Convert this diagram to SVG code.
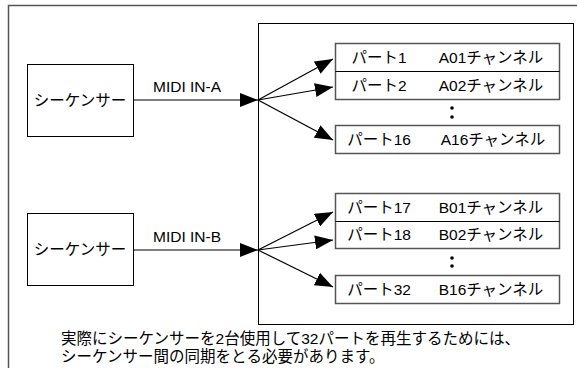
<svg xmlns="http://www.w3.org/2000/svg" width="577" height="368" viewBox="0 0 577 368">
<style>
text{font-family:"Liberation Sans","Noto Sans CJK JP",sans-serif;font-size:15.5px;fill:#000}
.box{fill:#fff;stroke:#000;stroke-width:1}
.cbox{fill:#fff;stroke:#555;stroke-width:1.5}
.div{stroke:#000;stroke-width:1}
.ln{stroke:#000;stroke-width:1.2;fill:none}
.c{text-anchor:middle}
</style>
<defs>
<marker id="ah" markerUnits="userSpaceOnUse" markerWidth="18" markerHeight="14" refX="18" refY="7" orient="auto">
<path d="M0,0 L18,7 L0,14 z" fill="#000"/>
</marker>
</defs>
<rect x="8.5" y="5.5" width="590" height="400" fill="#fff" stroke="#555" stroke-width="1.5"/>
<g id="instrument">
<rect class="box" x="258.5" y="23.5" width="315" height="301"/>
</g>
<g id="seqA">
<rect class="box" x="27.5" y="64.5" width="106" height="72"/>
<text class="c" x="80" y="106">シーケンサー</text>
</g>
<g id="seqB">
<rect class="box" x="27.5" y="213.5" width="106" height="72"/>
<text class="c" x="80" y="255">シーケンサー</text>
</g>
<g id="groupA">
<rect class="cbox" x="335.5" y="43.5" width="224" height="56"/>
<line class="div" x1="335.5" y1="71.5" x2="559.5" y2="71.5"/>
<text class="c" x="379" y="63">パート1</text>
<text class="c" x="491" y="63">A01チャンネル</text>
<text class="c" x="379" y="91">パート2</text>
<text class="c" x="491" y="91">A02チャンネル</text>
<circle cx="452" cy="108" r="1.8"/>
<circle cx="452" cy="117" r="1.8"/>
<rect class="cbox" x="335.5" y="125.5" width="224" height="28"/>
<text class="c" x="379" y="145">パート16</text>
<text class="c" x="493" y="145">A16チャンネル</text>
</g>
<g id="groupB">
<rect class="cbox" x="335.5" y="193.5" width="224" height="55"/>
<line class="div" x1="335.5" y1="221.5" x2="559.5" y2="221.5"/>
<text class="c" x="379" y="213">パート17</text>
<text class="c" x="491" y="213">B01チャンネル</text>
<text class="c" x="379" y="240">パート18</text>
<text class="c" x="491" y="240">B02チャンネル</text>
<circle cx="452" cy="258" r="1.8"/>
<circle cx="452" cy="266" r="1.8"/>
<rect class="cbox" x="335.5" y="275.5" width="224" height="28"/>
<text class="c" x="379" y="295">パート32</text>
<text class="c" x="491" y="295">B16チャンネル</text>
</g>
<g id="connectors">
<line class="ln" x1="133.5" y1="100" x2="258" y2="100" marker-end="url(#ah)"/>
<line class="ln" x1="258" y1="100" x2="333" y2="59" marker-end="url(#ah)"/>
<line class="ln" x1="258" y1="100" x2="333" y2="87" marker-end="url(#ah)"/>
<line class="ln" x1="258" y1="100" x2="333" y2="140" marker-end="url(#ah)"/>
<line class="ln" x1="133.5" y1="250" x2="258" y2="250" marker-end="url(#ah)"/>
<line class="ln" x1="258" y1="250" x2="333" y2="212" marker-end="url(#ah)"/>
<line class="ln" x1="258" y1="250" x2="333" y2="240" marker-end="url(#ah)"/>
<line class="ln" x1="258" y1="250" x2="333" y2="287" marker-end="url(#ah)"/>
<text x="153" y="92">MIDI IN-A</text>
<text x="153" y="242">MIDI IN-B</text>
</g>
<g id="note">
<text x="61" y="344">実際にシーケンサーを2台使用して32パートを再生するためには、</text>
<text x="61" y="362">シーケンサー間の同期をとる必要があります。</text>
</g>
</svg>
